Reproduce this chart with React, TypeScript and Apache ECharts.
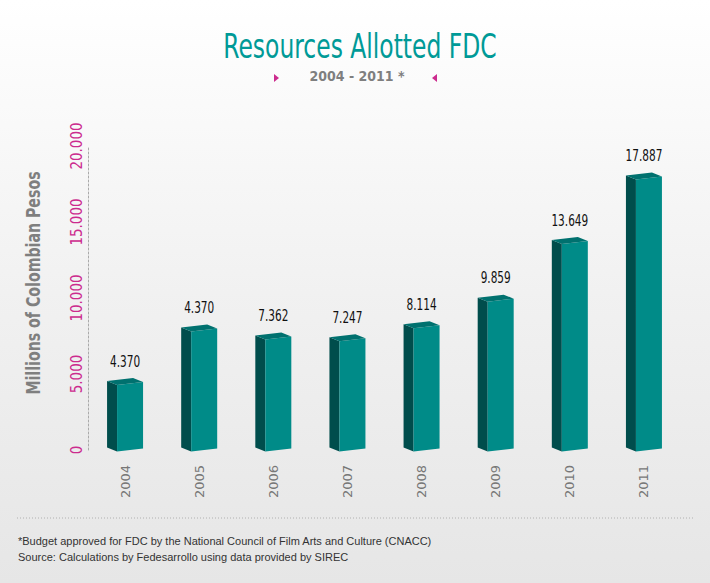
import React, { useEffect, useRef } from "react";
import * as echarts from "echarts";

const categories = ["2004", "2005", "2006", "2007", "2008", "2009", "2010", "2011"];
const barValues = [4370, 7900, 7362, 7247, 8114, 9859, 13649, 17887];
const barLabels = ["4.370", "4.370", "7.362", "7.247", "8.114", "9.859", "13.649", "17.887"];
const yTicks = ["0", "5.000", "10.000", "15.000", "20.000"];

const TEAL = "#008b88";
const TEAL_DARK = "#004d4c";
const TEAL_TOP = "#00716f";
const MAGENTA = "#cc2b8e";
const NARROW = "'DejaVu Sans Condensed', 'DejaVu Sans', sans-serif";

export default function App() {
  const ref = useRef<HTMLDivElement>(null);
  useEffect(() => {
    if (!ref.current) return;
    const chart = echarts.init(ref.current, null, { renderer: "svg" });
    const option: any = {
      animation: false,
      backgroundColor: {
        type: "linear",
        x: 0, y: 0, x2: 0, y2: 1,
        colorStops: [
          { offset: 0, color: "#ffffff" },
          { offset: 0.5, color: "#f1f1f1" },
          { offset: 1, color: "#e6e6e6" },
        ],
      },
      grid: { left: 88, right: 29, top: 146, bottom: 133, outerBoundsMode: "none" },
      xAxis: {
        type: "category",
        data: categories,
        boundaryGap: true,
        axisLine: { show: false },
        axisTick: { show: false },
        axisLabel: {
          rotate: 90,
          margin: 15,
          color: "#777777",
          fontSize: 13,
          fontFamily: "'DejaVu Sans', sans-serif",
        },
      },
      yAxis: {
        type: "value",
        min: 0,
        max: 20000,
        interval: 5000,
        axisLine: { show: true, lineStyle: { color: "#aaaaaa", type: [2, 2], width: 1 } },
        axisTick: { show: false },
        splitLine: { show: false },
        axisLabel: {
          rotate: 90,
          margin: 4,
          color: MAGENTA,
          fontSize: 15,
          fontFamily: NARROW,
          formatter: (v: number) => yTicks[Math.round(v / 5000)] ?? "",
        },
      },
      graphic: [
        {
          type: "text",
          x: 360,
          y: 46,
          scaleX: 0.79,
          style: {
            text: "Resources Allotted FDC",
            fill: "#009a97",
            fontSize: 33,
            fontFamily: NARROW,
            align: "center",
            verticalAlign: "middle",
          },
        },
        {
          type: "text",
          x: 357,
          y: 76,
          style: {
            text: "2004 - 2011 *",
            fill: "#7f7f7f",
            fontSize: 14,
            fontWeight: "bold",
            fontFamily: NARROW,
            align: "center",
            verticalAlign: "middle",
          },
        },
        {
          type: "polygon",
          shape: { points: [[274, 74], [279, 78], [274, 82]] },
          style: { fill: MAGENTA },
        },
        {
          type: "polygon",
          shape: { points: [[437, 74], [432, 78], [437, 82]] },
          style: { fill: MAGENTA },
        },
        {
          type: "text",
          x: 33,
          y: 283,
          rotation: Math.PI / 2,
          scaleX: 0.83,
          style: {
            text: "Millions of Colombian Pesos",
            fill: "#7f7f7f",
            fontSize: 19,
            fontWeight: "bold",
            fontFamily: NARROW,
            align: "center",
            verticalAlign: "middle",
          },
        },
        {
          type: "line",
          shape: { x1: 17, y1: 518, x2: 693, y2: 518 },
          style: { stroke: "#b0b0b0", lineWidth: 1, lineDash: [1, 2] },
        },
        {
          type: "text",
          x: 18,
          y: 541,
          style: {
            text: "*Budget approved for FDC by the National Council of Film Arts and Culture (CNACC)",
            fill: "#333333",
            fontSize: 11,
            fontFamily: "'Liberation Sans', sans-serif",
            verticalAlign: "middle",
          },
        },
        {
          type: "text",
          x: 18,
          y: 557,
          style: {
            text: "Source: Calculations by Fedesarrollo using data provided by SIREC",
            fill: "#333333",
            fontSize: 11,
            fontFamily: "'Liberation Sans', sans-serif",
            verticalAlign: "middle",
          },
        },
      ],
      series: [
        {
          type: "custom",
          data: categories.map((c, i) => [i, barValues[i]]),
          renderItem: (params: any, api: any) => {
            const idx = api.value(0);
            const top = api.coord([idx, api.value(1)]);
            const base = api.coord([idx, 0]);
            const cx = top[0];
            const yt = top[1];
            const y0 = base[1];
            const xl = cx - 8;
            const xr = cx + 18;
            const dx = 10;
            const dy = 4;
            const s = 1.5;
            return {
              type: "group",
              children: [
                {
                  type: "polygon",
                  shape: {
                    points: [
                      [xl - dx, yt + s - dy],
                      [xl, yt + s],
                      [xl, y0 + s],
                      [xl - dx, y0 + s - dy],
                    ],
                  },
                  style: { fill: TEAL_DARK },
                },
                {
                  type: "polygon",
                  shape: {
                    points: [
                      [xl, yt + s],
                      [xr, yt - s],
                      [xr, y0 - s],
                      [xl, y0 + s],
                    ],
                  },
                  style: { fill: TEAL },
                },
                {
                  type: "polygon",
                  shape: {
                    points: [
                      [xl - dx, yt + s - dy],
                      [xl, yt + s],
                      [xr, yt - s],
                      [xr - dx, yt - s - dy],
                    ],
                  },
                  style: { fill: TEAL_TOP },
                },
                {
                  type: "text",
                  x: cx,
                  y: yt - 22,
                  scaleX: 0.78,
                  style: {
                    text: barLabels[idx],
                    fill: "#111111",
                    fontSize: 15,
                    fontFamily: NARROW,
                    align: "center",
                    verticalAlign: "middle",
                  },
                },
              ],
            };
          },
        },
      ],
    };
    chart.setOption(option);
    return () => chart.dispose();
  }, []);
  return (
    <div
      ref={ref}
      style={{ position: "fixed", left: 0, top: 0, width: 710, height: 583 }}
    />
  );
}
